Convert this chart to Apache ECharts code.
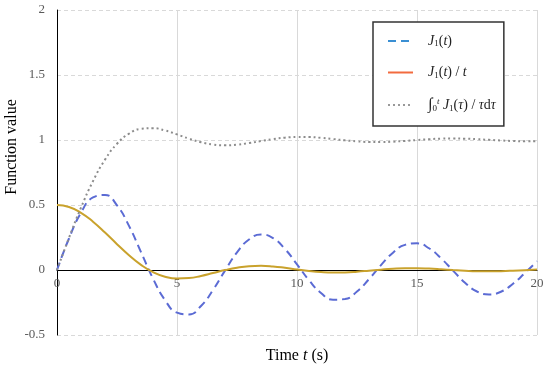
<!DOCTYPE html>
<html>
<head>
<meta charset="utf-8">
<script src="https://cdn.jsdelivr.net/npm/echarts@6/dist/echarts.min.js"></script>
<style>html,body{margin:0;padding:0;background:#fff}#c{width:550px;height:369px}</style>
</head>
<body>
<div id="c"></div>
<script>
var T = [0,0.5,1,1.5,2,2.5,3,3.5,4,4.5,5,5.5,6,6.5,7,7.5,8,8.5,9,9.5,10,10.5,11,11.5,12,12.5,13,13.5,14,14.5,15,15.5,16,16.5,17,17.5,18,18.5,19,19.5,20];
var J1 = [0,0.2423,0.4401,0.5579,0.5767,0.4971,0.3391,0.1374,-0.0660,-0.2311,-0.3276,-0.3414,-0.2767,-0.1538,-0.0047,0.1352,0.2346,0.2731,0.2453,0.1613,0.0435,-0.0789,-0.1768,-0.2284,-0.2234,-0.1655,-0.0703,0.0380,0.1334,0.1934,0.2051,0.1672,0.0904,-0.0047,-0.0977,-0.1655,-0.1880,-0.1673,-0.1057,-0.0224,0.0668];
var J1overT = [0.5,0.4846,0.4401,0.3719,0.2884,0.1988,0.1130,0.0393,-0.0165,-0.0514,-0.0655,-0.0621,-0.0461,-0.0237,-0.0007,0.0180,0.0293,0.0321,0.0273,0.0170,0.0043,-0.0075,-0.0161,-0.0199,-0.0186,-0.0132,-0.0054,0.0028,0.0095,0.0133,0.0137,0.0108,0.0057,-0.0003,-0.0057,-0.0095,-0.0104,-0.0090,-0.0056,-0.0011,0.0033];
var IntJ1 = [0,0.2474,0.4796,0.6835,0.8491,0.9709,1.0485,1.0859,1.0908,1.0735,1.0429,1.0105,0.9829,0.9654,0.9593,0.9640,0.9761,0.9918,1.0069,1.0180,1.0235,1.0226,1.0165,1.0072,0.9974,0.9894,0.9846,0.9840,0.9872,0.9930,0.9999,1.0061,1.0103,1.0116,1.0101,1.0062,1.0011,0.9962,0.9924,0.9907,0.9913];
var xTicks = {min:0, max:20, step:5};
var yTicks = {min:-0.5, max:2, step:0.5};

function pairs(v){ return T.map(function(t,i){ return [t, v[i]]; }); }
var serif = 'Liberation Serif, Times New Roman, serif';
var chart = echarts.init(document.getElementById('c'), null, {renderer:'canvas'});
var labels = {
  'J1': '{i|J}{s|1}{n|(}{i|t}{n|)}',
  'J1t': '{i|J}{s|1}{n|(}{i|t}{n|) / }{i|t}',
  'Int': '{g|\u222B}{s|0}{p|t}{n| }{i|J}{s|1}{n|(}{i|\u03C4}{n|) / }{i|\u03C4}{n|d}{i|\u03C4}'
};
chart.setOption({
  animation:false,
  grid:{left:57, right:13, top:10, bottom:34, containLabel:false, outerBoundsMode:'none'},
  xAxis:{type:'value', min:xTicks.min, max:xTicks.max, interval:xTicks.step,
    offset:-65,
    axisLine:{show:true, onZero:false, lineStyle:{color:'#000', width:1}},
    axisTick:{show:false},
    axisLabel:{color:'#595959', fontFamily:serif, fontSize:13, margin:7},
    splitLine:{show:true, lineStyle:{color:'#d9d9d9', width:1, type:'solid'}},
    name:'Time {it|t} (s)', nameLocation:'middle', nameGap:78,
    nameTextStyle:{color:'#000', fontFamily:serif, fontSize:16, rich:{it:{fontStyle:'italic', fontFamily:serif, fontSize:16, color:'#000'}}}
  },
  yAxis:{type:'value', min:yTicks.min, max:yTicks.max, interval:yTicks.step,
    axisLine:{show:true, lineStyle:{color:'#000', width:1}},
    axisTick:{show:false},
    axisLabel:{color:'#595959', fontFamily:serif, fontSize:13, margin:12},
    splitLine:{show:true, lineStyle:{color:'#d9d9d9', width:1, type:[4,3]}}
  },
  legend:{
    orient:'vertical', left:373, top:22,
    padding:[12,8,13,14], itemWidth:25, itemHeight:14, itemGap:17,
    borderColor:'#333', borderWidth:1.5, backgroundColor:'#fff',
    itemStyle:{opacity:0},
    formatter:function(n){ return labels[n]; },
    textStyle:{padding:[0,0,0,10], rich:{
      i:{fontStyle:'italic', fontFamily:serif, fontSize:14, color:'#222'},
      n:{fontFamily:serif, fontSize:14, color:'#222'},
      s:{fontFamily:serif, fontSize:9, color:'#222', verticalAlign:'bottom', padding:[6,0,0,0]},
      p:{fontStyle:'italic', fontFamily:serif, fontSize:9, color:'#222', verticalAlign:'top', padding:[0,0,6,0]},
      g:{fontFamily:serif, fontSize:16, color:'#222'}
    }},
    data:[
      {name:'J1', lineStyle:{color:'#3a8fd3'}},
      {name:'J1t', lineStyle:{color:'#f26b3f', type:'solid'}},
      {name:'Int', lineStyle:{color:'#999'}}
    ]
  },
  graphic:[{type:'text', x:12, y:147, rotation:Math.PI/2,
    style:{text:'Function value', font:'16px ' + serif, fill:'#000', align:'center', verticalAlign:'middle'}}],
  series:[
    {name:'J1', type:'line', data:pairs(J1), smooth:true, showSymbol:false, symbol:'none',
     lineStyle:{color:'#5b6bd4', width:2, type:[8,5]}, itemStyle:{color:'#5b6bd4'}},
    {name:'J1t', type:'line', data:pairs(J1overT), smooth:true, showSymbol:false, symbol:'none',
     lineStyle:{color:'#c9a22c', width:2, type:'solid'}, itemStyle:{color:'#c9a22c'}},
    {name:'Int', type:'line', data:pairs(IntJ1), smooth:true, showSymbol:false, symbol:'none',
     lineStyle:{color:'#8c8c8c', width:2, type:[2,3]}, itemStyle:{color:'#8c8c8c'}}
  ]
});
</script>
</body>
</html>
